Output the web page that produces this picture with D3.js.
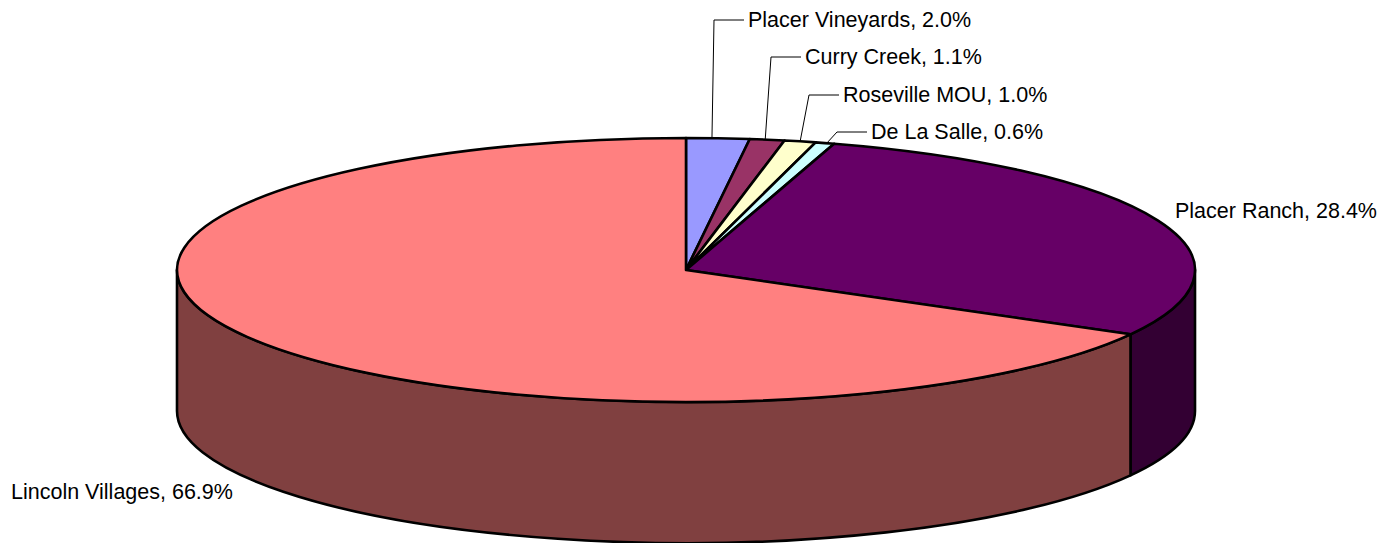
<!DOCTYPE html>
<html lang="en">
<head>
<meta charset="utf-8">
<title>Share by project</title>
<script src="https://cdn.jsdelivr.net/npm/d3@7"></script>
<style>
    html, body { margin: 0; padding: 0; background: #fff; overflow: hidden; }
    svg { display: block; }
    text { font-family: "Liberation Sans", Arial, sans-serif; font-size: 21.5px; fill: #000; }
    .edge { stroke: #000; stroke-width: 2.6px; stroke-linejoin: round; }
    .leader { fill: none; stroke: #000; stroke-width: 1px; }
</style>
</head>
<body>
<script>
    var categories = ['Placer Vineyards', 'Curry Creek', 'Roseville MOU', 'De La Salle', 'Placer Ranch', 'Lincoln Villages'];
    var shares = [2.0, 1.1, 1.0, 0.6, 28.4, 66.9];
    var topColors = ['#9999ff', '#993366', '#ffffcc', '#ccffff', '#660066', '#ff8080'];
    var sideColors = ['#4d4d80', '#4d1a33', '#808066', '#668080', '#330033', '#804040'];

    // label anchor (text start) and leader elbow, null = no leader
    var labelLayout = [
        {x: 748, y: 27, nudge: -6, elbow: [714, 20], end: 744},
        {x: 805, y: 64, nudge: -2, elbow: [771, 57], end: 801},
        {x: 843, y: 102, nudge: 0, elbow: [809, 95], end: 839},
        {x: 871, y: 139, nudge: 2, elbow: [837, 132], end: 867},
        {x: 1175, y: 218, elbow: null},
        {x: 11, y: 499, elbow: null}
    ];

    var width = 1386, height = 543;
    var cx = 686, cy = 270, rx = 509, ry = 132, depth = 141;

    var svg = d3.select('body').append('svg')
        .attr('width', width)
        .attr('height', height);

    var slices = d3.pie().sort(null)(shares);

    function px(a) { return cx + rx * Math.sin(a); }
    function py(a) { return cy - ry * Math.cos(a); }

    // outer wall of a slice, only the front half of the disc can be seen
    function wallPath(d) {
        var a0 = Math.max(d.startAngle, Math.PI / 2);
        var a1 = Math.min(d.endAngle, Math.PI * 1.5);
        if (a1 <= a0) return null;
        var large = a1 - a0 > Math.PI ? 1 : 0;
        return 'M' + px(a0) + ',' + py(a0)
            + 'A' + rx + ',' + ry + ' 0 ' + large + ' 1 ' + px(a1) + ',' + py(a1)
            + 'V' + (py(a1) + depth)
            + 'A' + rx + ',' + ry + ' 0 ' + large + ' 0 ' + px(a0) + ',' + (py(a0) + depth)
            + 'Z';
    }

    svg.append('g').selectAll('path')
        .data(slices.filter(function (d) { return wallPath(d); }))
        .enter().append('path')
        .attr('class', 'edge')
        .attr('d', wallPath)
        .attr('fill', function (d) { return sideColors[d.index]; });

    var arc = d3.arc().innerRadius(0).outerRadius(rx);

    svg.append('g')
        .attr('transform', 'translate(' + cx + ',' + cy + ') scale(1,' + (ry / rx) + ')')
        .selectAll('path')
        .data(slices)
        .enter().append('path')
        .attr('class', 'edge')
        .attr('vector-effect', 'non-scaling-stroke')
        .attr('d', arc)
        .attr('fill', function (d) { return topColors[d.index]; });

    var line = d3.line();

    svg.append('g').selectAll('path')
        .data(slices.filter(function (d) { return labelLayout[d.index].elbow; }))
        .enter().append('path')
        .attr('class', 'leader')
        .attr('d', function (d) {
            var l = labelLayout[d.index];
            var mid = (d.startAngle + d.endAngle) / 2;
            return line([[px(mid) + l.nudge, py(mid)], l.elbow, [l.end, l.elbow[1]]]);
        });

    svg.append('g').selectAll('text')
        .data(slices)
        .enter().append('text')
        .attr('x', function (d) { return labelLayout[d.index].x; })
        .attr('y', function (d) { return labelLayout[d.index].y; })
        .text(function (d) { return categories[d.index] + ', ' + shares[d.index].toFixed(1) + '%'; });
</script>
</body>
</html>
